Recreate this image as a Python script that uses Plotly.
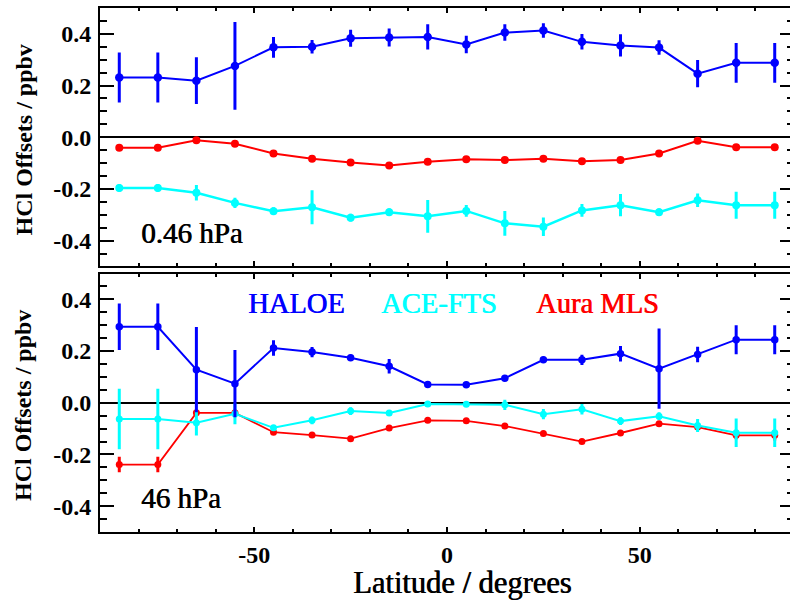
import plotly.graph_objects as go

lat = [-85, -75, -65, -55, -45, -35, -25, -15, -5, 5, 15, 25, 35, 45, 55, 65, 75, 85]

# 0.46 hPa panel
haloe_top = [0.231, 0.231, 0.219, 0.276, 0.348, 0.350, 0.383, 0.386, 0.388, 0.359, 0.405, 0.413, 0.369, 0.355, 0.347, 0.246, 0.288, 0.288]
haloe_top_err = [0.097, 0.097, 0.090, 0.170, 0.040, 0.026, 0.033, 0.035, 0.049, 0.034, 0.032, 0.028, 0.030, 0.043, 0.028, 0.053, 0.077, 0.077]
ace_top = [-0.196, -0.196, -0.215, -0.254, -0.286, -0.271, -0.311, -0.290, -0.306, -0.285, -0.333, -0.346, -0.283, -0.263, -0.290, -0.244, -0.263, -0.263]
ace_top_err = [0.015, 0.015, 0.030, 0.020, 0.015, 0.066, 0.015, 0.015, 0.063, 0.023, 0.048, 0.036, 0.025, 0.043, 0.015, 0.026, 0.052, 0.052]
mls_top = [-0.041, -0.041, -0.012, -0.025, -0.063, -0.083, -0.098, -0.109, -0.095, -0.085, -0.088, -0.083, -0.093, -0.088, -0.063, -0.014, -0.039, -0.039]
mls_top_err = [0.008, 0.008, 0.012, 0.008, 0.008, 0.008, 0.008, 0.008, 0.008, 0.008, 0.008, 0.008, 0.008, 0.008, 0.008, 0.010, 0.008, 0.008]

# 46 hPa panel
haloe_bot = [0.294, 0.294, 0.128, 0.074, 0.212, 0.196, 0.174, 0.141, 0.071, 0.070, 0.095, 0.166, 0.166, 0.190, 0.132, 0.187, 0.244, 0.244]
haloe_bot_err = [0.090, 0.090, 0.165, 0.130, 0.030, 0.020, 0.012, 0.028, 0.010, 0.010, 0.010, 0.012, 0.020, 0.030, 0.155, 0.030, 0.056, 0.056]
ace_bot = [-0.063, -0.063, -0.077, -0.043, -0.097, -0.068, -0.032, -0.040, -0.005, -0.006, -0.008, -0.044, -0.025, -0.071, -0.052, -0.088, -0.116, -0.116]
ace_bot_err = [0.117, 0.117, 0.050, 0.040, 0.010, 0.015, 0.015, 0.010, 0.010, 0.010, 0.020, 0.020, 0.020, 0.015, 0.015, 0.025, 0.055, 0.055]
mls_bot = [-0.239, -0.239, -0.039, -0.039, -0.114, -0.125, -0.139, -0.098, -0.068, -0.070, -0.090, -0.119, -0.150, -0.117, -0.081, -0.094, -0.126, -0.126]
mls_bot_err = [0.030, 0.030, 0.008, 0.008, 0.008, 0.008, 0.008, 0.008, 0.008, 0.008, 0.008, 0.008, 0.008, 0.008, 0.008, 0.010, 0.015, 0.020]

ytick_vals = [-0.4, -0.2, 0.0, 0.2, 0.4]
ytick_text = ["-0.4", "-0.2", "0.0", "0.2", "0.4"]
xtick_vals = [-50, 0, 50]
xtick_text = ["-50", "0", "50"]

BLUE = "#0000ff"
CYAN = "#00ffff"
RED = "#ff0000"
FONT = "Liberation Serif"

fig = go.Figure()


def add(y, err, color, xa, ya, msize, lw):
    fig.add_trace(go.Scatter(
        x=lat, y=y, xaxis=xa, yaxis=ya, mode="lines+markers",
        line=dict(color=color, width=lw),
        marker=dict(color=color, size=msize, symbol="circle"),
        error_y=dict(type="data", array=err, visible=True, color=color, thickness=3, width=0),
        showlegend=False, hoverinfo="skip",
    ))


add(mls_top, mls_top_err, RED, "x2", "y2", 8, 2)
add(ace_top, ace_top_err, CYAN, "x2", "y2", 8, 2.5)
add(haloe_top, haloe_top_err, BLUE, "x2", "y2", 8.5, 2)

add(mls_bot, mls_bot_err, RED, "x", "y", 7, 1.8)
add(ace_bot, ace_bot_err, CYAN, "x", "y", 7, 2)
add(haloe_bot, haloe_bot_err, BLUE, "x", "y", 7.5, 2)

xcommon = dict(
    range=[-90, 90], tickvals=xtick_vals, ticktext=xtick_text,
    ticks="inside", ticklen=5, tickwidth=1.5, tickcolor="black",
    minor=dict(tickvals=[-80, -70, -60, -40, -30, -20, -10, 10, 20, 30, 40, 60, 70, 80],
               ticks="inside", ticklen=3, tickwidth=1.5, tickcolor="black"),
    showline=True, linewidth=2, linecolor="black", mirror="ticks",
    showgrid=False, zeroline=False,
    tickfont=dict(family=FONT, size=24, color="black", weight="bold"),
)
ycommon = dict(
    range=[-0.5, 0.5], tickvals=ytick_vals, ticktext=ytick_text,
    ticks="inside", ticklen=14, tickwidth=1.5, tickcolor="black",
    minor=dict(dtick=0.05, tick0=0, ticks="inside", ticklen=7, tickwidth=1.5, tickcolor="black"),
    showline=True, linewidth=2, linecolor="black", mirror="ticks",
    showgrid=False, zeroline=True, zerolinecolor="black", zerolinewidth=2,
    tickfont=dict(family=FONT, size=24, color="black", weight="bold"),
    ticklabelstandoff=2,
)

fig.update_layout(
    width=800, height=605,
    margin=dict(l=100, r=4, t=8, b=73, pad=0),
    plot_bgcolor="white", paper_bgcolor="white",
    xaxis=dict(xcommon, anchor="y", domain=[0, 1]),
    xaxis2=dict(xcommon, anchor="y2", domain=[0, 1], matches="x", showticklabels=False),
    yaxis=dict(ycommon, anchor="x", domain=[0, 0.4933]),
    yaxis2=dict(ycommon, anchor="x2", domain=[0.5067, 1]),
)

SH = "0.7px 0px 0px {}"
ann_font = dict(family=FONT, size=29, color="black", shadow=SH.format("black"))
fig.add_annotation(x=-80, y=-0.37, xref="x2", yref="y2", text="0.46 hPa", showarrow=False,
                   xanchor="left", yanchor="middle", font=ann_font)
fig.add_annotation(x=-80, y=-0.37, xref="x", yref="y", text="46 hPa", showarrow=False,
                   xanchor="left", yanchor="middle", font=ann_font)

for name, xpos, col in [("HALOE", -39, BLUE), ("ACE-FTS", -2, CYAN), ("Aura MLS", 39, RED)]:
    fig.add_annotation(x=xpos, y=0.385, xref="x", yref="y", text=name, showarrow=False,
                       xanchor="center", yanchor="middle",
                       font=dict(family=FONT, size=28.5, color=col, shadow=SH.format(col)))

title_font = dict(family=FONT, size=24, color="black", weight="bold")
for yref in ["y2 domain", "y domain"]:
    fig.add_annotation(x=-0.11, y=0.49, xref="paper", yref=yref, text="HCl Offsets / ppbv",
                       showarrow=False, textangle=-90, xanchor="center", yanchor="middle",
                       font=title_font)

fig.add_annotation(x=4, y=-0.097, xref="x", yref="paper", text="Latitude / degrees",
                   showarrow=False, xanchor="center", yanchor="middle",
                   font=dict(family=FONT, size=30.5, color="black", shadow=SH.format("black")))

fig.write_html("out.html",
               post_script="document.documentElement.style.overflow='hidden';document.body.style.overflow='hidden';")
